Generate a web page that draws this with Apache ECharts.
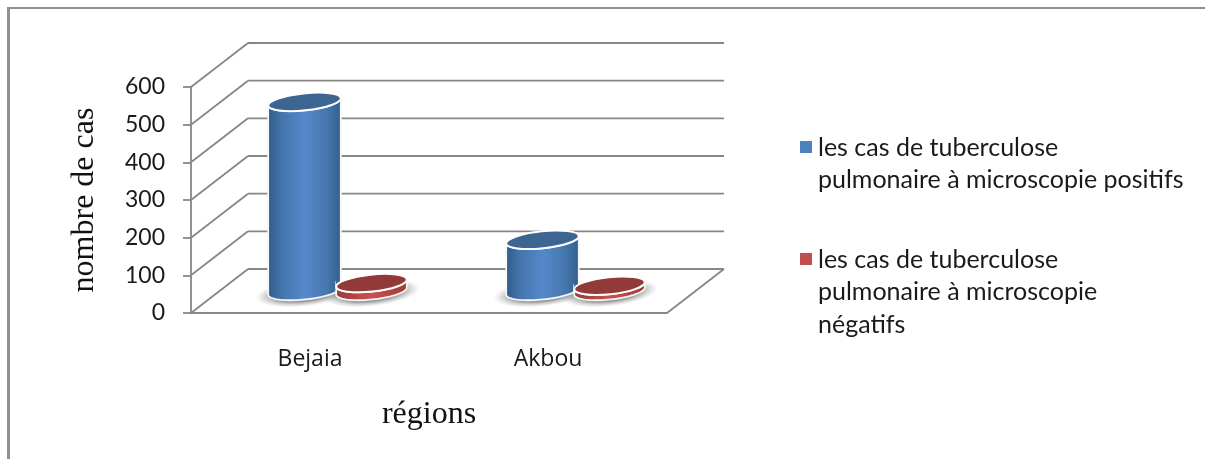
<!DOCTYPE html>
<html>
<head>
<meta charset="utf-8">
<style>html,body{margin:0;padding:0;background:#fff}#chart{width:1205px;height:459px}</style>
<script src="https://cdn.jsdelivr.net/npm/echarts@6/dist/echarts.min.js"></script>
</head>
<body>
<div id="chart"></div>
<script>
const regions = ['Bejaia', 'Akbou'];
const positifs = [502, 136];
const negatifs = [21, 14];
const yTicks = [0, 100, 200, 300, 400, 500, 600];
const legendLines = [
  ['les cas de tuberculose', 'pulmonaire à microscopie positifs'],
  ['les cas de tuberculose', 'pulmonaire à microscopie', 'négatifs']
];
const seriesNames = [legendLines[0].join(' '), legendLines[1].join(' ')];

const AXIS_GREY = '#878787';
const AXIS_WIDTH = 1.8;
// Depth of the box drawn behind the plot, in pixels.
const DEPTH_X = 57, DEPTH_Y = -44;
const TILT = -6 * Math.PI / 180;

// Walls, floor and gridlines of the pseudo-3D box.
function renderBox(params, api) {
  const cs = params.coordSys;
  const y = api.coord([0, api.value(1)])[1];
  const left = cs.x, right = cs.x + cs.width;
  const style = { stroke: AXIS_GREY, lineWidth: AXIS_WIDTH, fill: null };
  const children = [
    { type: 'line', shape: { x1: left, y1: y, x2: left + DEPTH_X, y2: y + DEPTH_Y }, style },
    { type: 'line', shape: { x1: left + DEPTH_X, y1: y + DEPTH_Y, x2: right + DEPTH_X, y2: y + DEPTH_Y }, style }
  ];
  if (api.value(1) === 0) {
    children.push({ type: 'line', shape: { x1: right, y1: y, x2: right + DEPTH_X, y2: y + DEPTH_Y }, style });
  }
  return { type: 'group', children };
}

function ellipsePoint(cx, cy, a, b, t) {
  const ct = Math.cos(t), st = Math.sin(t), cr = Math.cos(TILT), sr = Math.sin(TILT);
  return [cx + a * ct * cr - b * st * sr, cy + a * ct * sr + b * st * cr];
}

// A tilted cylinder standing on the floor at mid depth, with its soft contact shadow.
function cylinder(shift, a, sideStops, topColor) {
  return function (params, api) {
    const base = api.coord([api.value(0), 0]);
    const top = api.coord([api.value(0), api.value(1)]);
    const cx = base[0] + DEPTH_X / 2 + shift;
    const by = base[1] + DEPTH_Y / 2;
    const ty = top[1] + DEPTH_Y / 2;
    const b = 8.5;
    const shadowR = a + 13;
    const body = [];
    for (let i = 0; i <= 40; i++) body.push(ellipsePoint(cx, by, a, b, Math.PI * i / 40));
    for (let i = 0; i <= 40; i++) body.push(ellipsePoint(cx, ty, a, b, Math.PI - Math.PI * i / 40));
    return {
      type: 'group',
      children: [
        {
          type: 'circle', z2: 1, x: cx, y: by + 2, rotation: -TILT,
          scaleX: 1, scaleY: (b + 5) / shadowR,
          shape: { cx: 0, cy: 0, r: shadowR },
          style: {
            fill: {
              type: 'radial', x: 0.5, y: 0.5, r: 0.5,
              colorStops: [
                { offset: 0, color: 'rgba(90,90,90,0.8)' },
                { offset: 0.62, color: 'rgba(100,100,100,0.65)' },
                { offset: 1, color: 'rgba(170,170,170,0)' }
              ]
            }
          }
        },
        {
          type: 'polygon', z2: 10, shape: { points: body },
          style: {
            fill: { type: 'linear', x: 0, y: 0, x2: 1, y2: 0, colorStops: sideStops },
            stroke: '#f4f6f8', lineWidth: 1.8
          }
        },
        {
          type: 'ellipse', z2: 11, x: cx, y: ty, rotation: -TILT,
          shape: { cx: 0, cy: 0, rx: a, ry: b },
          style: { fill: topColor, stroke: '#ffffff', lineWidth: 2 }
        }
      ]
    };
  };
}

const blueSide = [
  { offset: 0, color: '#2f5a86' }, { offset: 0.2, color: '#4575ad' },
  { offset: 0.5, color: '#5488ca' }, { offset: 0.8, color: '#4677ae' },
  { offset: 1, color: '#315d8a' }
];
const redSide = [
  { offset: 0, color: '#98393a' }, { offset: 0.5, color: '#cb514e' }, { offset: 1, color: '#9c3c39' }
];

const legendTextStyle = { fill: '#1a1a1a', fontFamily: 'Lato', fontSize: 25 };
const legendTops = [149, 261];
const legendColors = ['#4f81bd', '#c0504d'];
const legendGraphics = [];
legendLines.forEach((lines, i) => {
  legendGraphics.push({
    type: 'rect', left: 800, top: legendTops[i] - 8,
    shape: { width: 12, height: 12 }, style: { fill: legendColors[i] }
  });
  lines.forEach((line, j) => {
    legendGraphics.push({
      type: 'text', left: 818, top: legendTops[i] + j * 32.5 - 14,
      style: Object.assign({ text: line }, legendTextStyle)
    });
  });
});

const chart = echarts.init(document.getElementById('chart'), null, { renderer: 'canvas' });
chart.setOption({
  animation: false,
  backgroundColor: '#ffffff',
  grid: { left: 191, right: 538, top: 87, bottom: 146 },
  xAxis: {
    type: 'category',
    data: regions,
    name: 'régions',
    nameLocation: 'middle',
    nameGap: 86,
    nameTextStyle: { fontFamily: 'Liberation Serif', fontSize: 32, color: '#111' },
    axisLine: { lineStyle: { color: AXIS_GREY, width: AXIS_WIDTH } },
    axisTick: { show: false },
    axisLabel: { margin: 35, fontFamily: 'Open Sans', fontSize: 23, color: '#1a1a1a' }
  },
  yAxis: {
    type: 'value',
    min: 0, max: 600, interval: 100,
    name: 'nombre de cas',
    nameLocation: 'middle',
    nameGap: 90,
    nameRotate: 90,
    nameTextStyle: { fontFamily: 'Liberation Serif', fontSize: 32, color: '#111' },
    axisLine: { show: true, lineStyle: { color: AXIS_GREY, width: AXIS_WIDTH } },
    axisTick: { show: true, length: 8, lineStyle: { color: AXIS_GREY, width: AXIS_WIDTH } },
    axisLabel: { margin: 26, padding: [7, 0, 0, 0], fontFamily: 'Lato', fontSize: 23, color: '#1a1a1a' },
    splitLine: { show: false }
  },
  graphic: [
    { type: 'rect', left: 7, top: 7, z: -1, shape: { width: 3, height: 452 }, style: { fill: '#8f8f8f' } },
    { type: 'rect', left: 7, top: 7, z: -1, shape: { width: 1198, height: 2 }, style: { fill: '#8f8f8f' } }
  ].concat(legendGraphics),
  series: [
    {
      type: 'custom', name: 'grille', z: 1, silent: true,
      renderItem: renderBox,
      data: yTicks.map(v => [0, v]),
      clip: false
    },
    {
      type: 'custom', name: seriesNames[0], z: 2, clip: false,
      renderItem: cylinder(-34, 36.5, blueSide, '#3d6592'),
      data: positifs.map((v, i) => [i, v])
    },
    {
      type: 'custom', name: seriesNames[1], z: 2, clip: false,
      renderItem: cylinder(33, 35.5, redSide, '#923a37'),
      data: negatifs.map((v, i) => [i, v])
    }
  ]
});
</script>
</body>
</html>
